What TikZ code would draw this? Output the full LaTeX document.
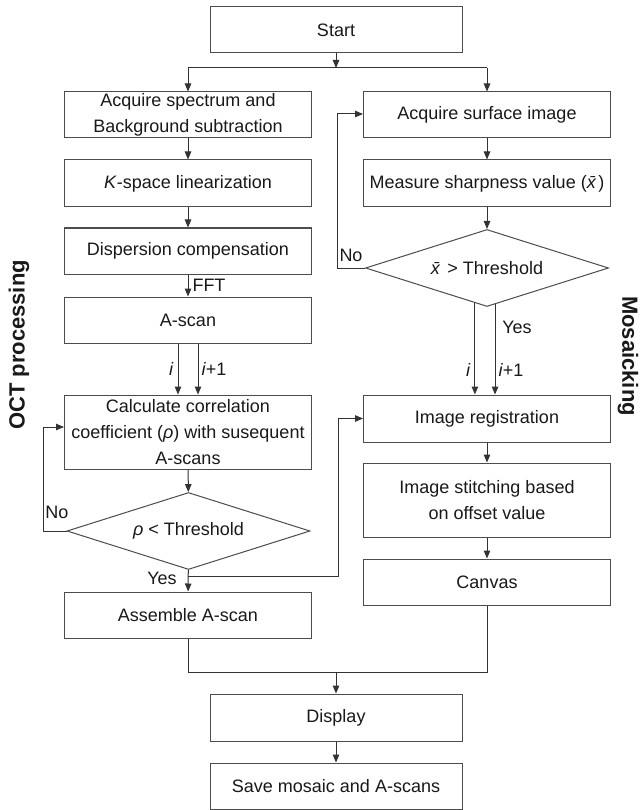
\documentclass[tikz,border=0pt]{standalone}
\usepackage{fontspec}
\setmainfont{Liberation Sans}
\usetikzlibrary{arrows.meta,shapes.geometric,calc}
\begin{document}
\begin{tikzpicture}[x=1pt,y=-1pt,
  every node/.style={font=\fontsize{18}{26}\selectfont, text=black!90},
  box/.style={draw=black!70, line width=1pt, minimum width=247pt, minimum height=46pt, inner sep=0pt, align=center},
  dec/.style={draw=black!70, line width=1pt, diamond, aspect=3, minimum width=243pt, minimum height=77pt, inner sep=0pt},
  arr/.style={draw=black!80, line width=1pt, -{Triangle[length=8pt,width=6.5pt]}},
  ln/.style={draw=black!80, line width=1pt},
  side/.style={font=\fontsize{22}{26}\selectfont\bfseries, inner sep=0pt}
]
\useasboundingbox (0,0) rectangle (640,810);
\fill[white] (0,0) rectangle (640,810);

% nodes
\node[box, minimum width=252pt] (start) at (336,30) {Start};
\node[box] (acq) at (188,115) {Acquire spectrum and\\Background subtraction};
\node[box] (surf) at (487,115) {Acquire surface image};
\node[box, minimum height=47pt] (kspace) at (188,183.5) {\textit{K}-space linearization};
\node[box, minimum height=47pt] (sharp) at (487,183.5) {Measure sharpness value (\textit{\=x})};
\node[box] (disp) at (188,251) {Dispersion compensation};
\node[dec] (thx) at (487,268) {\textit{\=x} > Threshold};
\node[box] (ascan) at (188,320) {A-scan};
\node[box, minimum height=74pt] (calc) at (188,432) {Calculate correlation\\coefficient (\textit{ρ}) with susequent\\A-scans};
\node[dec] (thr) at (188.5,531) {\textit{ρ} < Threshold};
\node[box] (assem) at (188,615) {Assemble A-scan};
\node[box, minimum height=47pt] (reg) at (487,418.5) {Image registration};
\node[box, minimum height=74pt] (stitch) at (487,500) {Image stitching based\\on offset value};
\node[box] (canvas) at (487,582) {Canvas};
\node[box, minimum width=252pt, minimum height=47pt] (display) at (336,717.5) {Display};
\node[box, minimum width=252pt] (save) at (336,786) {Save mosaic and A-scans};

\node[side, rotate=90] (oct) at (19,345) {OCT processing};
\node[side, rotate=-90] (mos) at (628,356) {Mosaicking};

% coordinates
\coordinate (br) at (336,68);
\coordinate (nl) at (43,531);
\coordinate (nr) at (337,268);
\coordinate (yj) at (188,576);
\coordinate (yk) at (338,576);
\coordinate (mg) at (336,672);

% connectors
\draw[arr] (start) -- (br);
\draw[ln] (acq.north |- br) -- (surf.north |- br);
\draw[arr] (acq.north |- br) -- (acq.north);
\draw[arr] (surf.north |- br) -- (surf.north);
\draw[arr] (acq) -- (kspace);
\draw[arr] (kspace) -- (disp);
\draw[arr] (disp) -- node[right, inner sep=4pt] (fft) {FFT} (ascan);
\draw[arr] ([xshift=-10pt]ascan.south) -- node[left, inner sep=4pt] (li) {\textit{i}} ([xshift=-10pt]calc.north);
\draw[arr] ([xshift=10pt]ascan.south) -- node[right, inner sep=3pt] (li1) {\textit{i}+1} ([xshift=10pt]calc.north);
\draw[arr] (calc) -- (thr);
\draw[arr] (thr) -- (assem);
\node (yesl) at (162,578) {Yes};
\draw[arr] (yj) -- (yk) |- (reg.west);
\draw[arr] (thr.west) -- (nl) |- ([yshift=5pt]calc.west);
\node (nol) at (57,512) {No};

\draw[arr] (surf) -- (sharp);
\draw[arr] (sharp) -- (thx);
\draw[arr] (thx.west) -- (nr) |- ([yshift=1pt]surf.west);
\node (nor) at (351,255) {No};
\coordinate (ti) at ($(thx.south)!0.0992!(thx.west)$);
\coordinate (ti1) at ($(thx.south)!0.0661!(thx.east)$);
\draw[arr] (ti) -- node[pos=0.73, left, inner sep=4pt] (ri) {\textit{i}} (ti |- reg.north);
\draw[arr] (ti1) -- node[pos=0.73, right, inner sep=3pt] (ri1) {\textit{i}+1} (ti1 |- reg.north);
\node (yesr) at (517,327) {Yes};

\draw[arr] (reg) -- (stitch);
\draw[arr] (stitch) -- (canvas);
\draw[ln] (assem.south) -- (assem.south |- mg) -- (canvas.south |- mg) -- (canvas.south);
\draw[arr] (mg) -- (display);
\draw[arr] (display) -- (save);
\end{tikzpicture}
\end{document}
